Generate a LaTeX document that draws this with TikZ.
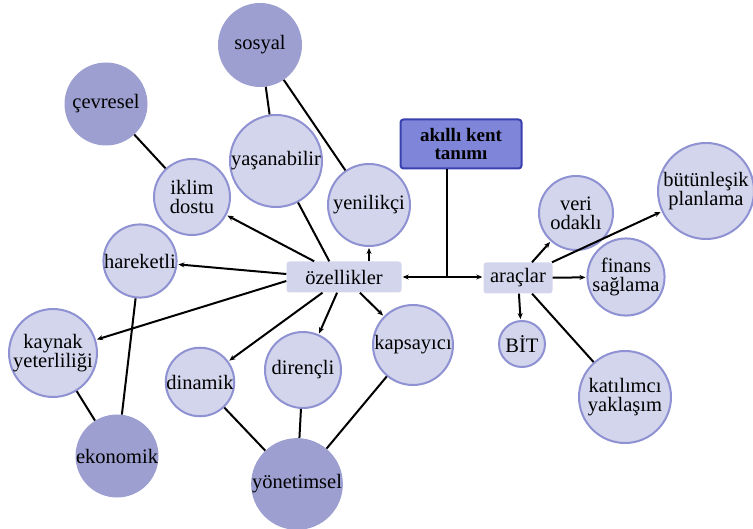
\documentclass[tikz,border=0pt]{standalone}
\usepackage{fontspec}
\setmainfont{Liberation Serif}
\usetikzlibrary{arrows.meta}
\definecolor{lightfill}{HTML}{D3D5EC}
\definecolor{lightborder}{HTML}{8E91D2}
\definecolor{darkfill}{HTML}{9C9FD0}
\definecolor{boxfill}{HTML}{7F85D8}
\definecolor{boxborder}{HTML}{3A40B0}
\tikzset{
  lc/.style={circle, fill=lightfill, draw=lightborder, line width=2pt, inner sep=0pt, minimum size=#1, align=center, font=\fontsize{20.5}{19}\selectfont},
  dc/.style={circle, fill=darkfill, inner sep=0pt, minimum size=#1, align=center, font=\fontsize{20.5}{19}\selectfont},
  hub/.style={rectangle, rounded corners=3pt, fill=lightfill, minimum width=#1, minimum height=31pt, inner sep=0pt, font=\fontsize{20.5}{19}\selectfont},
  topbox/.style={rectangle, rounded corners=3pt, fill=boxfill, draw=boxborder, line width=2pt, minimum width=121pt, minimum height=49pt, align=center, inner sep=0pt, font=\bfseries\fontsize{19}{18}\selectfont},
  ln/.style={line width=2pt, black},
  ar/.style={line width=2pt, black, -{Stealth[length=6pt,width=5pt]}, shorten >=1pt},
}
\begin{document}
\begin{tikzpicture}[x=1pt,y=-1pt]
\useasboundingbox (0,0) rectangle (753,529);
% dark circles
\node[dc=84pt] (sosyal) at (260,45) {sosyal};
\node[dc=83pt] (cevresel) at (106,104) {çevresel};
\node[dc=83pt] (ekonomik) at (117,456) {ekonomik};
\node[dc=88pt] (yonetimsel) at (297,484) {yönetimsel};
% light circles
\node[lc=92pt] (yasan) at (276,161) {yaşanabilir};
\node[lc=76pt] (iklim) at (192,197) {iklim\\dostu};
\node[lc=82pt] (yenilikci) at (369,205) {yenilikçi};
\node[lc=68pt] (hareketli) at (140,261) {hareketli};
\node[lc=86pt] (kaynak) at (53,353) {kaynak\\yeterliliği};
\node[lc=66pt] (dinamik) at (200,382) {dinamik};
\node[lc=76pt] (direncli) at (303,370) {dirençli};
\node[lc=80pt] (kapsayici) at (413,345) {kapsayıcı};
\node[lc=74pt] (veri) at (576,213) {veri\\odaklı};
\node[lc=96pt] (butun) at (706,191) {bütünleşik\\planlama};
\node[lc=68pt] (finans) at (626,277) {finans\\sağlama};
\node[lc=46pt] (bit) at (522,344) {BİT};
\node[lc=92pt] (katilim) at (625,397) {katılımcı\\yaklaşım};
% hubs
\node[hub=115pt] (ozell) at (344,277) {özellikler};
\node[hub=69pt] (araclar) at (518,278) {araçlar};
\node[topbox] (akilli) at (461,144) {akıllı kent\\tanımı};
\coordinate (j) at (447,277);
% top connections
\draw[ln] (akilli.south -| j) -- (j);
\draw[ar] (j) -- (ozell.east |- j);
\draw[ar] (j) -- (araclar.west |- j);
% özellikler children
\draw[ar] (ozell) -- (iklim);
\draw[ln] (ozell.north west) ++(43,0) -- (yasan);
\draw[ar] (ozell.north -| yenilikci) -- (yenilikci);
\draw[ar] (ozell.west) ++(0,-3) -- (hareketli);
\draw[ar] (ozell.west) ++(0,4) -- (kaynak);
\draw[ar] (ozell) -- (dinamik);
\draw[ar] (ozell) -- (direncli);
\draw[ar] (ozell) -- (kapsayici);
% araçlar children
\draw[ar] (araclar) -- (veri);
\draw[ar] (araclar) -- (butun);
\draw[ar] (araclar) -- (finans);
\draw[ar] (araclar) -- (bit);
\draw[ln] (araclar) -- (katilim);
% outer lines
\draw[ln] (sosyal) -- (yasan);
\draw[ln] (sosyal) -- (yenilikci);
\draw[ln] (cevresel) -- (iklim);
\draw[ln] (hareketli) -- (ekonomik);
\draw[ln] (kaynak) -- (ekonomik);
\draw[ln] (dinamik) -- (yonetimsel);
\draw[ln] (direncli) -- (yonetimsel);
\draw[ln] (kapsayici) -- (yonetimsel);
\end{tikzpicture}
\end{document}
